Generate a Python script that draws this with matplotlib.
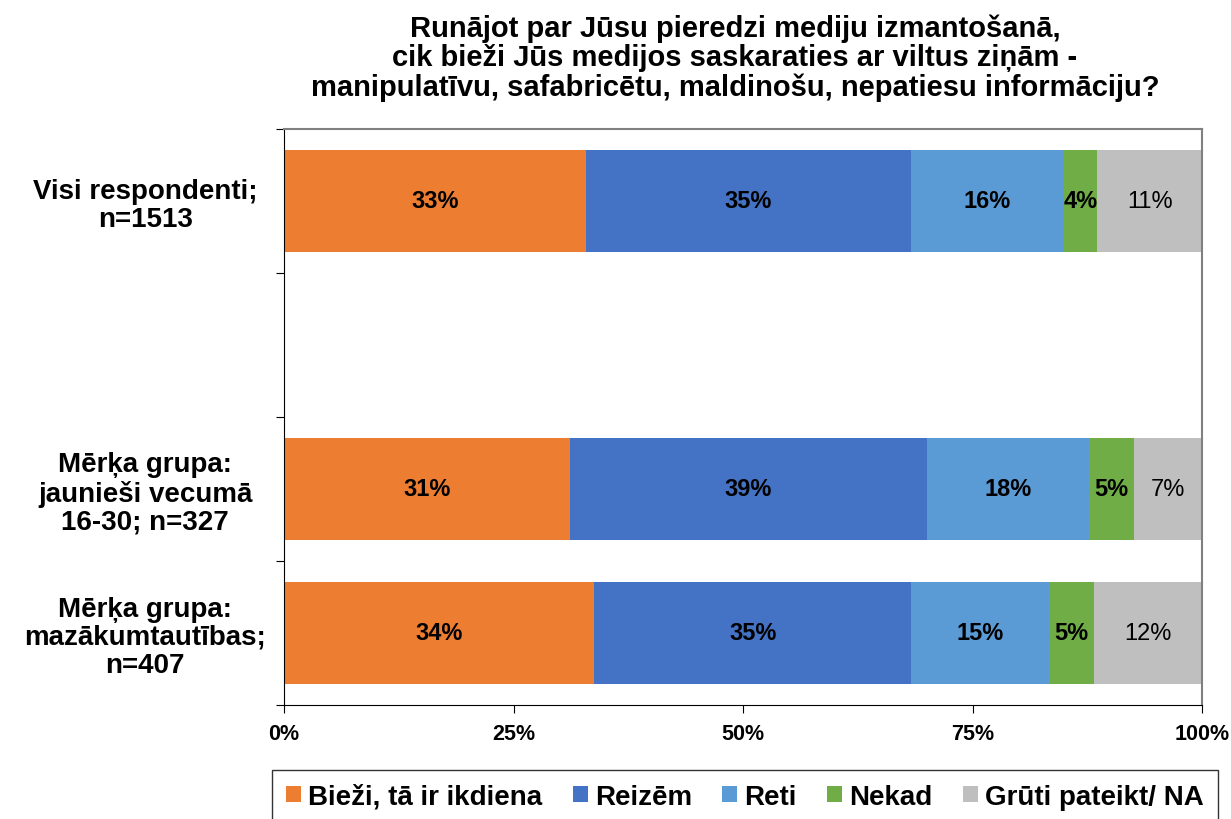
import matplotlib.pyplot as plt
import numpy as np

plt.rcParams['font.family'] = ['Liberation Sans', 'DejaVu Sans']

groups = ['Visi respondenti;\nn=1513', '', 'Mērķa grupa:\njaunieši vecumā\n16-30; n=327',
          'Mērķa grupa:\nmazākumtautības;\nn=407']
series = ['Bieži, tā ir ikdiena', 'Reizēm', 'Reti', 'Nekad', 'Grūti pateikt/ NA']
colors = ['#ED7D31', '#4472C4', '#5B9BD5', '#70AD47', '#BFBFBF']
# values in percent, None for the empty slot
biezi = [32.9, None, 31.2, 33.8]
reizem = [35.4, None, 38.8, 34.5]
reti = [16.6, None, 17.7, 15.0]
nekad = [3.7, None, 4.9, 4.9]
gruti = [11.4, None, 7.4, 11.8]
labels = [['33%', '35%', '16%', '4%', '11%'],
          None,
          ['31%', '39%', '18%', '5%', '7%'],
          ['34%', '35%', '15%', '5%', '12%']]

data = [biezi, reizem, reti, nekad, gruti]

fig = plt.figure(figsize=(12.31, 8.2), dpi=100)
ax = fig.add_axes([284 / 1231, 1 - 706 / 820, 918 / 1231, 576 / 820])

rows = [i for i in range(len(groups)) if biezi[i] is not None]
left = np.zeros(len(rows))
for s, (name, vals, col) in enumerate(zip(series, data, colors)):
    v = np.array([vals[i] for i in rows])
    ax.barh(rows, v, left=left, height=0.71, color=col, label=name)
    for k, i in enumerate(rows):
        txt = labels[i][s]
        ax.text(left[k] + v[k] / 2, i, txt, ha='center', va='center',
                fontsize=17, fontweight='normal' if s == 4 else 'bold', color='black')
    left = left + v

ax.set_xlim(0, 100)
ax.set_ylim(3.5, -0.5)
ax.set_xticks([0, 25, 50, 75, 100])
ax.set_xticklabels(['0%', '25%', '50%', '75%', '100%'], fontsize=15.5, fontweight='bold')
ax.set_yticks([-0.5, 0.5, 1.5, 2.5, 3.5])
ax.set_yticklabels([])
ax.set_yticks(range(len(groups)), minor=True)
ax.set_yticklabels(groups, minor=True, fontsize=20, fontweight='bold', ha='center',
                   linespacing=1.1)
ax.tick_params(axis='y', which='minor', length=0, pad=100)
ax.tick_params(axis='y', which='major', length=6, direction='out')
ax.tick_params(axis='x', length=6, direction='out', pad=7)

ax.spines['top'].set_color('#808080')
ax.spines['right'].set_color('#808080')
ax.spines['top'].set_linewidth(1.5)
ax.spines['right'].set_linewidth(1.5)

fig.text(735 / 1231, 1 - 58 / 820,
         'Runājot par Jūsu pieredzi mediju izmantošanā,\n'
         'cik bieži Jūs medijos saskaraties ar viltus ziņām -\n'
         'manipulatīvu, safabricētu, maldinošu, nepatiesu informāciju?',
         ha='center', va='center', fontsize=21, fontweight='bold', linespacing=1.05)

leg = fig.legend(loc='center', bbox_to_anchor=(745 / 1231, 1 - 798 / 820), ncol=5,
                 prop={'size': 20, 'weight': 'bold'}, frameon=True, fancybox=False,
                 handlelength=0.54, handleheight=0.54, handletextpad=0.25, columnspacing=1.1,
                 borderpad=0.5)
leg.get_frame().set_edgecolor('black')
leg.get_frame().set_linewidth(1)

fig.savefig('out.png', dpi=100)
